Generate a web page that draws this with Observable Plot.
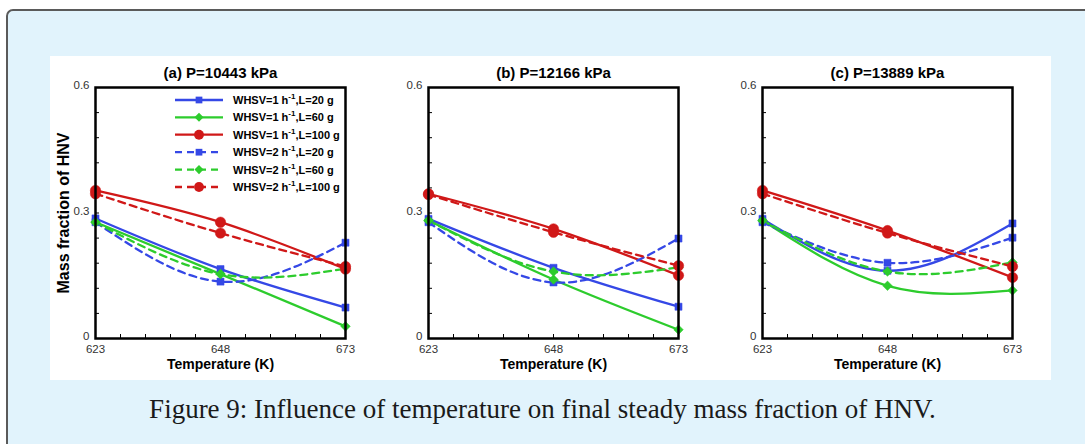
<!DOCTYPE html>
<html><head><meta charset="utf-8">
<script src="https://cdn.jsdelivr.net/npm/d3@7"></script>
<script src="https://cdn.jsdelivr.net/npm/@observablehq/plot@0.6"></script>
<style>
html,body{margin:0;padding:0;background:#fff;width:1085px;height:444px;overflow:hidden;position:relative;}
#box{position:absolute;left:6px;top:9px;width:1110px;height:470px;background:#e1f3fc;border:2px solid #5a5a5a;border-radius:7px;box-sizing:border-box;}
#white{position:absolute;left:50px;top:56px;width:1001px;height:324px;background:#fff;}
.panel{position:absolute;top:56px;}
#legend{position:absolute;left:0;top:0;}
#caption{position:absolute;left:0;width:1085px;top:392px;text-align:center;font-family:"Liberation Serif",serif;font-size:27px;line-height:34px;color:#1a1a1a;white-space:nowrap;}
</style>
</head><body>
<div id="box"></div>
<div id="white"></div>
<div id="pa" class="panel" style="left:45px"></div>
<div id="pb" class="panel" style="left:378px"></div>
<div id="pc" class="panel" style="left:712px"></div>
<svg id="legend" width="1085" height="444"></svg>
<div id="caption">Figure 9: Influence of temperature on final steady mass fraction of HNV.</div>
<script>
// ---- data ----
const temps = [623, 648, 673];
const whsv = [1, 1, 1, 2, 2, 2];
const loads = [20, 60, 100, 20, 60, 100];
const seriesNames = [
  "WHSV=1 h-1,L=20 g", "WHSV=1 h-1,L=60 g", "WHSV=1 h-1,L=100 g",
  "WHSV=2 h-1,L=20 g", "WHSV=2 h-1,L=60 g", "WHSV=2 h-1,L=100 g"
];
const panelTitles = ["(a) P=10443 kPa", "(b) P=12166 kPa", "(c) P=13889 kPa"];
// values per series (rows follow seriesNames), columns follow temps
const valuesA = [
  [0.287, 0.166, 0.074],
  [0.278, 0.154, 0.029],
  [0.354, 0.278, 0.166],
  [0.278, 0.136, 0.229],
  [0.278, 0.154, 0.167],
  [0.346, 0.252, 0.172]
];
const valuesB = [
  [0.286, 0.169, 0.076],
  [0.282, 0.141, 0.021],
  [0.346, 0.262, 0.151],
  [0.278, 0.134, 0.239],
  [0.282, 0.160, 0.170],
  [0.344, 0.254, 0.174]
];
const valuesC = [
  [0.286, 0.162, 0.275],
  [0.282, 0.126, 0.115],
  [0.354, 0.258, 0.146],
  [0.278, 0.181, 0.241],
  [0.282, 0.160, 0.182],
  [0.346, 0.252, 0.172]
];
const xMajorTicks = [623, 648, 673];
const xMinorTicks = [623, 628, 633, 638, 643, 648, 653, 658, 663, 668, 673];
const yMajorTicks = [0, 0.3, 0.6];
const yMinorTicks = [0, 0.06, 0.12, 0.18, 0.24, 0.3, 0.36, 0.42, 0.48, 0.54, 0.6];
const loadColors = {20: "#3548e6", 60: "#2dcc2d", 100: "#d01818"};
const loadSymbols = {20: "square", 60: "diamond2", 100: "circle"};
const loadRadius = {20: 4, 60: 4.3, 100: 5.2};

const narrow = '"Liberation Sans Narrow", "Arial Narrow", "Liberation Sans", sans-serif';
const sans = '"Liberation Sans", Arial, sans-serif';

const W = 330, H = 324, ML = 50, MR = 30, MT = 31, MB = 42;
const FW = W - ML - MR, FH = H - MT - MB;

function rowsFor(values) {
  const rows = [];
  values.forEach((vals, i) => temps.forEach((t, j) => rows.push({
    series: seriesNames[i], whsv: whsv[i], load: loads[i], T: t, v: vals[j]
  })));
  return rows;
}

function panel(values, title, withYLabel) {
  const rows = rowsFor(values);
  const marks = [
    Plot.tickX(xMinorTicks, {x: d => d, insetTop: FH - 4, stroke: "#000", strokeWidth: 1}),
    Plot.tickY(yMinorTicks, {y: d => d, insetRight: FW - 4, stroke: "#000", strokeWidth: 1}),
    Plot.axisX(xMajorTicks, {tickSize: 0, tickPadding: 6, label: null, fill: "#333", fontFamily: narrow, fontSize: 11.5}),
    Plot.axisY(yMajorTicks, {tickSize: 0, tickPadding: 6, dy: -2, label: null, fill: "#333", fontFamily: narrow, fontSize: 11.5, tickFormat: d => String(d)}),
  ];
  // lines: solid for WHSV=1, dashed for WHSV=2
  marks.push(Plot.line(rows.filter(d => d.whsv === 1), {
    x: "T", y: "v", z: "series", stroke: d => loadColors[d.load], strokeWidth: 2.3, curve: "natural"
  }));
  marks.push(Plot.line(rows.filter(d => d.whsv === 2), {
    x: "T", y: "v", z: "series", stroke: d => loadColors[d.load], strokeWidth: 2.3, curve: "natural", strokeDasharray: "7,5"
  }));
  for (const L of [20, 60, 100]) {
    marks.push(Plot.dot(rows.filter(d => d.load === L), {
      x: "T", y: "v", symbol: () => loadSymbols[L], fill: loadColors[L], stroke: loadColors[L], strokeWidth: 0.5, r: loadRadius[L]
    }));
  }
  marks.push(Plot.frame({stroke: "#000", strokeWidth: 2.5}));
  marks.push(Plot.text([title], {frameAnchor: "top", dy: -14, lineAnchor: "middle", textAnchor: "middle", fontWeight: "bold", fontSize: 15, fontFamily: narrow, fill: "#000"}));
  marks.push(Plot.text(["Temperature (K)"], {frameAnchor: "bottom", dy: 26, lineAnchor: "middle", textAnchor: "middle", fontWeight: "bold", fontSize: 14, fontFamily: narrow, fill: "#000"}));
  if (withYLabel) {
    marks.push(Plot.text(["Mass fraction of HNV"], {frameAnchor: "left", dx: -32, rotate: -90, lineAnchor: "middle", textAnchor: "middle", fontWeight: "bold", fontSize: 16, fontFamily: sans, fill: "#000"}));
  }
  return Plot.plot({
    width: W, height: H, marginLeft: ML, marginRight: MR, marginTop: MT, marginBottom: MB,
    x: {domain: [623, 673], axis: null},
    y: {domain: [0, 0.6], axis: null},
    symbol: {type: "identity"},
    style: {background: "transparent", overflow: "visible", fontFamily: narrow},
    marks
  });
}

document.getElementById("pa").append(panel(valuesA, panelTitles[0], true));
document.getElementById("pb").append(panel(valuesB, panelTitles[1], false));
document.getElementById("pc").append(panel(valuesC, panelTitles[2], false));

// ---- legend (inside panel a) ----
const lg = d3.select("#legend");
const rowY = [100, 117.3, 134.7, 152.2, 169.6, 187];
seriesNames.forEach((name, i) => {
  const L = loads[i], c = loadColors[L], y = rowY[i];
  lg.append("line").attr("x1", 175).attr("x2", 223).attr("y1", y).attr("y2", y)
    .attr("stroke", c).attr("stroke-width", 2.3)
    .attr("stroke-dasharray", whsv[i] === 2 ? "7,5" : null);
  const sym = d3.symbol().type(L === 20 ? d3.symbolSquare : L === 60 ? d3.symbolDiamond2 : d3.symbolCircle)
    .size(Math.PI * Math.pow(loadRadius[L] * 0.95, 2));
  lg.append("path").attr("d", sym()).attr("transform", `translate(199,${y})`).attr("fill", c);
  const parts = name.split("h-1");
  const t = lg.append("text").attr("x", 233).attr("y", y + 4)
    .attr("font-family", sans).attr("font-weight", "bold").attr("font-size", 11).attr("fill", "#000");
  t.append("tspan").text(parts[0] + "h");
  t.append("tspan").attr("dy", -5).attr("font-size", 8).text("-1");
  t.append("tspan").attr("dy", 5).text(parts[1]);
});
</script>
</body></html>
